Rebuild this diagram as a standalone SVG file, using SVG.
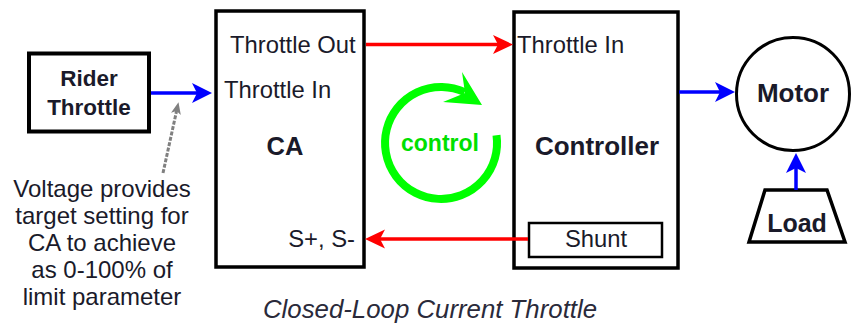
<svg xmlns="http://www.w3.org/2000/svg" width="854" height="326" viewBox="0 0 854 326">
<style>
text{font-family:"Liberation Sans",Arial,sans-serif;fill:#1a1a2a}
.b{font-weight:bold}
.box{fill:#fff;stroke:#000}
.blue{stroke:#0000ff;stroke-width:3.5;fill:none}
.red{stroke:#ff0000;stroke-width:3.5;fill:none}
</style>
<defs>
<marker id="ab" markerUnits="userSpaceOnUse" markerWidth="22" markerHeight="22" refX="10" refY="10" orient="auto" overflow="visible"><path d="M0,0 L20,10 L0,20 L5,10 Z" fill="#0000ff"/></marker>
<marker id="ar" markerUnits="userSpaceOnUse" markerWidth="22" markerHeight="22" refX="10" refY="9.5" orient="auto" overflow="visible"><path d="M0,0 L20,9.5 L0,19 L5,9.5 Z" fill="#ff0000"/></marker>
<marker id="ag" markerUnits="userSpaceOnUse" markerWidth="14" markerHeight="14" refX="5" refY="5" orient="auto" overflow="visible"><path d="M0,0 L12,5 L0,10 L3,5 Z" fill="#808080"/></marker>
</defs>
<g id="rider"><rect class="box" x="29" y="53.5" width="120" height="78" stroke-width="4"/><text class="b" x="89" y="86" font-size="22.5" text-anchor="middle">Rider</text><text class="b" x="89" y="115" font-size="22.5" text-anchor="middle">Throttle</text></g>
<g id="ca"><rect class="box" x="216" y="11" width="148" height="256" stroke-width="3.5"/><text x="230" y="53" font-size="23.8">Throttle Out</text><text x="224" y="98" font-size="23.8">Throttle In</text><text class="b" x="285" y="155" font-size="25.5" text-anchor="middle">CA</text><text x="355" y="247" font-size="23.8" text-anchor="end">S+, S-</text></g>
<g id="controller"><rect class="box" x="514" y="12" width="164" height="256" stroke-width="3.5"/><text x="517" y="53" font-size="23.8">Throttle In</text><text class="b" x="597" y="155" font-size="26" text-anchor="middle">Controller</text></g>
<g id="shunt"><rect class="box" x="529" y="223" width="133" height="34" stroke-width="2.5"/><text x="596" y="247" font-size="23.8" text-anchor="middle">Shunt</text></g>
<g id="motor"><circle class="box" cx="793" cy="94" r="56.5" stroke-width="3"/><text class="b" x="793" y="102" font-size="26" text-anchor="middle">Motor</text></g>
<g id="load"><polygon class="box" points="765,190 827,190 845,242 749,242" stroke-width="3.5"/><text class="b" x="797" y="232" font-size="25" text-anchor="middle">Load</text></g>
<g id="control"><path d="M496.5,135.2 A56,56 0 1 1 464.7,92.2" fill="none" stroke="#00ff00" stroke-width="8"/><path d="M462,72 L482,105 L443,102 L465,93 Z" fill="#00ff00"/><text class="b" x="440" y="151" font-size="23" text-anchor="middle" style="fill:#00e000">control</text></g>
<g id="note"><text font-size="24" text-anchor="middle"><tspan x="102" y="197">Voltage provides</tspan><tspan x="102" y="224">target setting for</tspan><tspan x="102" y="251">CA to achieve</tspan><tspan x="102" y="278">as 0-100% of</tspan><tspan x="102" y="305">limit parameter</tspan></text></g>
<g id="caption"><text x="430" y="318" font-size="25.8" font-style="italic" text-anchor="middle" style="fill:#2a2a3a">Closed-Loop Current Throttle</text></g>
<g id="connectors">
<line class="blue" x1="151" y1="93" x2="202" y2="93" marker-end="url(#ab)"/>
<line class="red" x1="366" y1="44.5" x2="503" y2="44.5" marker-end="url(#ar)"/>
<line class="red" x1="528" y1="239" x2="375" y2="239" marker-end="url(#ar)"/>
<line class="blue" x1="679" y1="92" x2="725" y2="92" marker-end="url(#ab)"/>
<line class="blue" x1="796" y1="190" x2="796" y2="163" marker-end="url(#ab)"/>
<line x1="163" y1="173" x2="177" y2="109" stroke="#808080" stroke-width="3" stroke-dasharray="4 1.5" marker-end="url(#ag)"/>
</g>
</svg>
